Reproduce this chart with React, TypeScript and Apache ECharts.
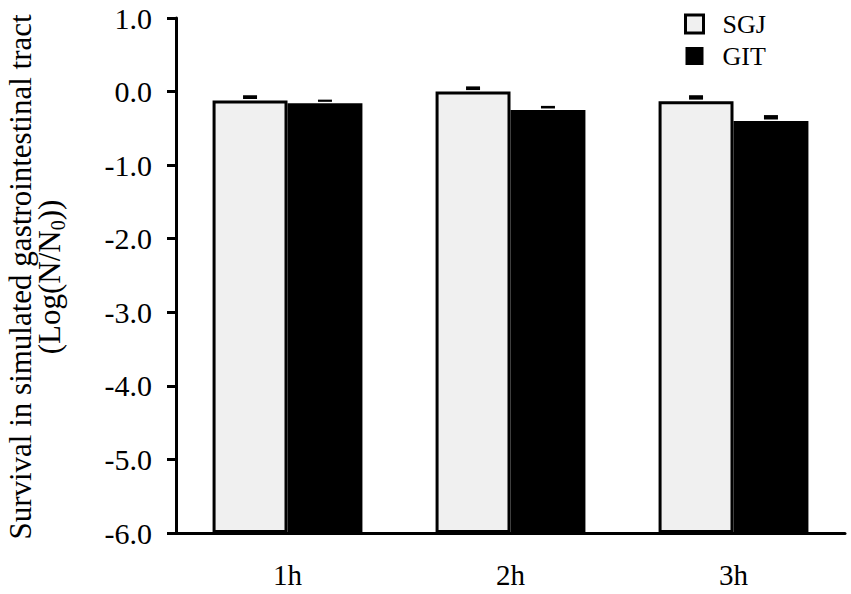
import React, { useEffect, useRef } from "react";
import * as echarts from "echarts";

const categories = ["1h", "2h", "3h"];
const sgjValues = [-0.12, 0.0, -0.13];
const sgjErrors = [0.05, 0.05, 0.06];
const gitValues = [-0.16, -0.25, -0.4];
const gitErrors = [0.03, 0.035, 0.06];
const yMin = -6;
const yMax = 1;

const FONT = "Liberation Serif";

export default function App() {
  const ref = useRef<HTMLDivElement>(null);
  useEffect(() => {
    if (!ref.current) return;
    const chart = echarts.init(ref.current, undefined, { renderer: "svg" });
    const shift = (v: number) => v - yMin;
    const errData = [
      ...sgjValues.map((v, i) => [i, shift(v), sgjErrors[i], -0.168]),
      ...gitValues.map((v, i) => [i, shift(v), gitErrors[i], 0.168]),
    ];
    chart.setOption({
      animation: false,
      backgroundColor: "#fff",
      grid: { left: 176, right: 6, top: 18, bottom: 61, containLabel: false },
      legend: {
        orient: "vertical",
        left: 679,
        top: 6,
        icon: "rect",
        itemWidth: 18,
        itemHeight: 18,
        itemGap: 6,
        textStyle: { fontFamily: FONT, fontSize: 26, color: "#000", padding: [0, 0, 0, 14] },
        data: [
          { name: "SGJ", itemStyle: { color: "#f0f0f0", borderColor: "#000", borderWidth: 3 } },
          { name: "GIT", itemStyle: { color: "#000", borderColor: "#000", borderWidth: 0 } },
        ],
      },
      xAxis: {
        type: "category",
        data: categories,
        axisLine: { lineStyle: { color: "#000", width: 3 } },
        axisTick: { length: 10, lineStyle: { color: "#000", width: 3 } },
        axisLabel: { fontFamily: FONT, fontSize: 29, color: "#000", margin: 27 },
      },
      yAxis: {
        type: "value",
        min: 0,
        max: yMax - yMin,
        interval: 1,
        splitLine: { show: false },
        axisLine: { show: true, lineStyle: { color: "#000", width: 3 } },
        axisTick: { show: true, length: 9, lineStyle: { color: "#000", width: 3 } },
        axisLabel: {
          fontFamily: FONT,
          fontSize: 30,
          color: "#000",
          margin: 24,
          formatter: (v: number) => (v + yMin).toFixed(1),
        },
      },
      graphic: [
        {
          type: "text",
          x: 20,
          y: 277,
          rotation: Math.PI / 2,
          style: {
            text: "Survival in simulated gastrointestinal tract",
            fontFamily: FONT,
            fontSize: 31,
            fill: "#000",
            align: "center",
            verticalAlign: "middle",
          },
        },
        {
          type: "text",
          x: 49,
          y: 277,
          rotation: Math.PI / 2,
          style: {
            text: "{a|(Log(N/N}{s|0}{a|))}",
            align: "center",
            verticalAlign: "middle",
            rich: {
              a: { fontFamily: FONT, fontSize: 31, fill: "#000", color: "#000", verticalAlign: "bottom" },
              s: { fontFamily: FONT, fontSize: 20, fill: "#000", color: "#000", verticalAlign: "bottom", padding: [0, 0, -3, 0] },
            },
          },
        },
      ],
      series: [
        {
          name: "SGJ",
          type: "bar",
          barWidth: "33.6%",
          barGap: "0%",
          data: sgjValues.map(shift),
          itemStyle: { color: "#f0f0f0", borderColor: "#000", borderWidth: 3 },
          z: 2,
        },
        {
          name: "GIT",
          type: "bar",
          barWidth: "33.6%",
          barGap: "0%",
          data: gitValues.map(shift),
          itemStyle: { color: "#000", borderColor: "#000", borderWidth: 0 },
          z: 1,
        },
        {
          type: "custom",
          name: "err",
          z: 5,
          data: errData,
          renderItem: (params: any, api: any) => {
            const ci = api.value(0);
            const v = api.value(1);
            const e = api.value(2);
            const off = api.value(3);
            const bw = api.size([1, 0])[0];
            const top = api.coord([ci, v + e]);
            const bot = api.coord([ci, v]);
            const x = top[0] + off * bw;
            return {
              type: "rect",
              shape: { x: x - 7, y: top[1] - 1.5, width: 14, height: Math.max(bot[1] - top[1], 2) },
              style: { fill: "#000" },
            };
          },
        },
      ],
    });
    return () => chart.dispose();
  }, []);
  return <div ref={ref} style={{ width: 851, height: 594, position: "absolute", left: 0, top: 0 }} />;
}
